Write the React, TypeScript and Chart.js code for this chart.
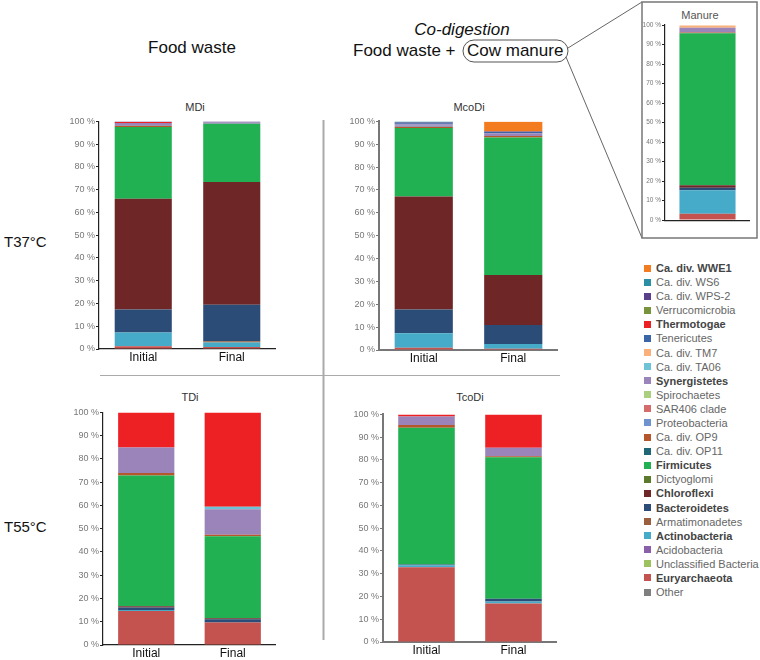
import React, { useEffect, useRef } from "react";
import { Chart, registerables } from "chart.js";
Chart.register(...registerables);

// Legend order (top to bottom)
const taxa = [
  "Ca. div. WWE1", "Ca. div. WS6", "Ca. div. WPS-2", "Verrucomicrobia", "Thermotogae",
  "Tenericutes", "Ca. div. TM7", "Ca. div. TA06", "Synergistetes", "Spirochaetes",
  "SAR406 clade", "Proteobacteria", "Ca. div. OP9", "Ca. div. OP11", "Firmicutes",
  "Dictyoglomi", "Chloroflexi", "Bacteroidetes", "Armatimonadetes", "Actinobacteria",
  "Acidobacteria", "Unclassified Bacteria", "Euryarchaeota", "Other",
];
const taxaColors = [
  "#f47c20", "#2a8fa5", "#5a3f8a", "#77943c", "#ed2024",
  "#3a66a8", "#f9b07a", "#6fc3d6", "#9a84b9", "#a9cf7f",
  "#d66b6b", "#6f93cf", "#b5562b", "#1f6676", "#21b152",
  "#5b7a2c", "#6e2627", "#2b4c76", "#9a5f3c", "#45abc8",
  "#8a5ea9", "#9cc25d", "#c4524f", "#7f7f7f",
];
const boldTaxa = ["Ca. div. WWE1", "Thermotogae", "Synergistetes", "Firmicutes", "Chloroflexi", "Bacteroidetes", "Actinobacteria", "Euryarchaeota"];

const categories = ["Initial", "Final"];
const manureCategories = ["Manure"];
const yTickValues = [0, 10, 20, 30, 40, 50, 60, 70, 80, 90, 100];

// values in legend order (%)
//                 WWE1 WS6 WPS2 Verr Ther Tene TM7 TA06 Syne Spir SAR Prot OP9 OP11 Firm Dict Chlo Bact Arma Acti Acid Uncl Eury Oth
const mdiInitial = [0, 0, 0.3, 0, 0.4, 0, 0, 0, 0.9, 0, 0, 0.3, 0.6, 0, 31.5, 0, 48.6, 10.2, 0, 6.0, 0, 0, 1.2, 0];
const mdiFinal = [0, 0, 0.4, 0, 0, 0, 0, 0, 0.6, 0, 0, 0, 0, 0, 25.6, 0, 54.0, 16.0, 0.5, 2.0, 0, 0, 0.9, 0];
const mcoInitial = [0, 0.5, 0.3, 0, 0, 0.5, 0, 0, 0.6, 0, 0, 0.4, 0.6, 0, 29.9, 0, 49.5, 10.4, 0, 6.3, 0, 0, 1.0, 0];
const mcoFinal = [4.2, 0, 0.2, 0, 0, 0.6, 0, 0, 1.2, 0, 0, 0, 0.6, 0, 60.2, 0, 21.9, 8.3, 0, 2.0, 0, 0, 0.6, 0];
const manure = [0, 0, 0, 0, 0, 0, 1.2, 0, 2.5, 0, 0, 0, 0.3, 0, 78.0, 0, 1.2, 1.3, 0, 12.1, 0, 0, 3.2, 0];
const tdiInitial = [0, 0, 0, 0, 15.1, 0, 0, 0, 11.0, 0, 0, 0, 1.0, 0, 56.2, 0, 0.6, 1.0, 0, 0.5, 0, 0, 14.6, 0];
const tdiFinal = [0, 0, 0, 0, 40.6, 0, 0, 1.0, 11.0, 0, 0, 0, 0.6, 0, 35.3, 0, 0.4, 1.4, 0, 0, 0, 0, 9.7, 0];
const tcoInitial = [0, 0, 0, 0, 0.9, 0, 0, 0, 3.8, 0, 0, 0, 1.2, 0, 60.0, 0, 0, 0.4, 0, 0.9, 0, 0, 32.8, 0];
const tcoFinal = [0, 0, 0, 0, 14.6, 0, 0, 0, 3.8, 0, 0, 0, 0.4, 0, 62.2, 0, 0, 1.2, 0, 0.9, 0, 0, 16.9, 0];

const FONT = "'Liberation Sans', Arial, Helvetica, sans-serif";

type Props = {
  left: number; top: number; width: number; height: number;
  yw: number; xh: number; padTop: number;
  samples: number[][]; labels: string[];
  axisColor: string; axisWidth: number; tickSize: number; showX: boolean; barPct: number;
};

function StackChart(p: Props) {
  const ref = useRef<HTMLCanvasElement>(null);
  useEffect(() => {
    if (!ref.current) return;
    const datasets = taxa
      .map((name, i) => ({
        label: name,
        data: p.samples.map((s) => s[i]),
        backgroundColor: taxaColors[i],
        borderWidth: 0,
        barPercentage: p.barPct,
        categoryPercentage: 1,
      }))
      .reverse();
    const chart = new Chart(ref.current, {
      type: "bar",
      data: { labels: p.labels, datasets },
      options: {
        animation: false,
        responsive: false,
        devicePixelRatio: 1,
        layout: { padding: { top: p.padTop, left: 0, right: 0, bottom: 0 } },
        plugins: { legend: { display: false }, tooltip: { enabled: false }, title: { display: false } },
        scales: {
          x: {
            stacked: true,
            grid: { display: false, drawTicks: false },
            border: { display: true, color: p.axisColor, width: p.axisWidth },
            ticks: { display: p.showX, font: { size: 12, family: FONT }, color: "#111", padding: 1 },
            afterFit: (s: any) => { s.height = p.xh; },
          },
          y: {
            stacked: true,
            min: 0,
            max: 100,
            afterBuildTicks: (s: any) => { s.ticks = yTickValues.map((v) => ({ value: v })); },
            ticks: {
              callback: (v: any) => v + " %",
              font: { size: p.tickSize, family: FONT },
              color: "#777",
              padding: 1,
            },
            grid: { drawOnChartArea: false, drawTicks: true, tickLength: 3, color: p.axisColor, lineWidth: 1 },
            border: { display: true, color: p.axisColor, width: p.axisWidth },
            afterFit: (s: any) => { s.width = p.yw; },
          },
        },
      },
    } as any);
    return () => chart.destroy();
  }, []);
  return (
    <canvas
      ref={ref}
      width={p.width}
      height={p.height}
      style={{ position: "absolute", left: p.left, top: p.top, width: p.width, height: p.height }}
    />
  );
}

const txt = (style: React.CSSProperties): React.CSSProperties => ({
  position: "absolute",
  fontFamily: FONT,
  color: "#111",
  whiteSpace: "nowrap",
  lineHeight: "20px",
  ...style,
});

export default function App() {
  return (
    <div style={{ position: "absolute", left: 0, top: 0, width: 760, height: 660, background: "#fff", overflow: "hidden" }}>
      <svg width={760} height={660} style={{ position: "absolute", left: 0, top: 0 }}>
        <line x1={323.5} y1={120} x2={323.5} y2={640} stroke="#aaa" strokeWidth={2} />
        <line x1={100} y1={375.5} x2={560} y2={375.5} stroke="#aaa" strokeWidth={1} />
        <rect x={463} y={40} width={105} height={22} rx={11} ry={11} fill="none" stroke="#555" strokeWidth={1} />
        <line x1={568} y1={48} x2={642} y2={2} stroke="#666" strokeWidth={1} />
        <line x1={566} y1={57} x2={642} y2={238} stroke="#666" strokeWidth={1} />
        <rect x={642} y={2} width={115} height={236} fill="none" stroke="#777" strokeWidth={1.5} />
      </svg>

      <div style={txt({ left: 0, width: 384, top: 38, textAlign: "center", fontSize: 17 })}>Food waste</div>
      <div style={txt({ left: 362, width: 200, top: 20, textAlign: "center", fontSize: 17, fontStyle: "italic" })}>Co-digestion</div>
      <div style={txt({ left: 353, top: 41, fontSize: 17 })}>Food waste +</div>
      <div style={txt({ left: 467, top: 41, fontSize: 17 })}>Cow manure</div>

      <div style={txt({ left: 4, top: 232, fontSize: 15 })}>T37°C</div>
      <div style={txt({ left: 4, top: 517, fontSize: 15 })}>T55°C</div>

      <div style={txt({ left: 95, width: 200, top: 97, textAlign: "center", fontSize: 11, color: "#333" })}>MDi</div>
      <div style={txt({ left: 369, width: 200, top: 97, textAlign: "center", fontSize: 11, color: "#333" })}>McoDi</div>
      <div style={txt({ left: 90, width: 200, top: 387, textAlign: "center", fontSize: 11, color: "#333" })}>TDi</div>
      <div style={txt({ left: 370, width: 200, top: 387, textAlign: "center", fontSize: 11, color: "#333" })}>TcoDi</div>
      <div style={txt({ left: 650, width: 100, top: 5, textAlign: "center", fontSize: 11, color: "#555" })}>Manure</div>

      <StackChart left={67} top={115} width={209} height={250} yw={32} xh={16} padTop={6}
        samples={[mdiInitial, mdiFinal]} labels={categories} axisColor="#222" axisWidth={1.2}
        tickSize={9} showX={true} barPct={0.645} />
      <StackChart left={347} top={115} width={211} height={251} yw={32} xh={16} padTop={6}
        samples={[mcoInitial, mcoFinal]} labels={categories} axisColor="#777" axisWidth={2}
        tickSize={9} showX={true} barPct={0.65} />
      <StackChart left={71} top={406} width={205} height={254} yw={32} xh={15} padTop={6}
        samples={[tdiInitial, tdiFinal]} labels={categories} axisColor="#222" axisWidth={1.2}
        tickSize={9} showX={true} barPct={0.65} />
      <StackChart left={351} top={408} width={206} height={250} yw={32} xh={16} padTop={6}
        samples={[tcoInitial, tcoFinal]} labels={categories} axisColor="#777" axisWidth={2}
        tickSize={9} showX={true} barPct={0.65} />
      <StackChart left={641} top={20} width={109} height={205} yw={24} xh={2} padTop={5}
        samples={[manure]} labels={manureCategories} axisColor="#222" axisWidth={1.2}
        tickSize={6.5} showX={false} barPct={0.66} />

      {taxa.map((name, i) => {
        const y = 268 + i * 14.09;
        const bold = boldTaxa.includes(name);
        return (
          <React.Fragment key={name}>
            <div style={{ position: "absolute", left: 644, top: y - 3.5, width: 7, height: 7, background: taxaColors[i] }} />
            <div style={txt({ left: 656, top: y - 7, lineHeight: "14px", fontSize: 11, color: bold ? "#444" : "#666", fontWeight: bold ? "bold" : "normal" })}>
              {name}
            </div>
          </React.Fragment>
        );
      })}
    </div>
  );
}
